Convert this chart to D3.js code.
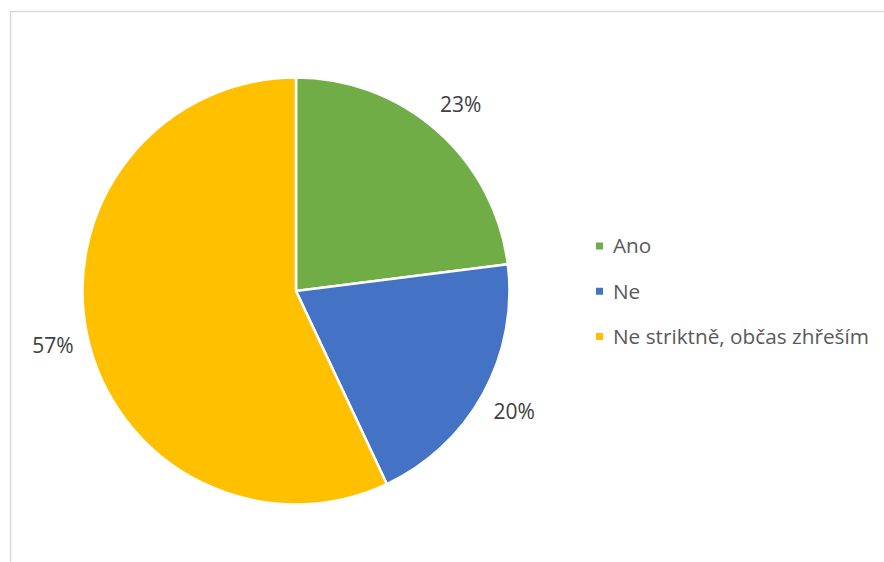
<!DOCTYPE html>
<html>
<head>
<meta charset="utf-8">
<script src="https://cdn.jsdelivr.net/npm/d3@7"></script>
<style>
  html, body { margin: 0; padding: 0; background: #fff; }
  svg { display: block; }
</style>
</head>
<body>
<svg id="chart" width="884" height="562"></svg>
<script>
// Answers to the survey question, share of respondents in percent
const categories = ["Ano", "Ne", "Ne striktně, občas zhřeším"];
const values = [23, 20, 57];
const valueLabels = ["23%", "20%", "57%"];
const colors = ["#70AD47", "#4472C4", "#FFC000"];

const width = 884, height = 562;
const svg = d3.select("#chart");
const font = "'Open Sans', Lato, sans-serif";

// Chart area frame
svg.append("rect")
  .attr("x", 10.5).attr("y", 11.5)
  .attr("width", width + 20).attr("height", height + 20)
  .attr("fill", "none")
  .attr("stroke", "#d9d9d9")
  .attr("stroke-width", 1.5);

const cx = 296, cy = 291, radius = 213.5;
const g = svg.append("g").attr("transform", `translate(${cx},${cy})`);

const pie = d3.pie().sort(null).value(d => d);
const arcs = pie(values);
const arc = d3.arc().innerRadius(0).outerRadius(radius);
const labelArc = d3.arc().innerRadius(249).outerRadius(249);

g.selectAll("path.slice")
  .data(arcs)
  .join("path")
  .attr("class", "slice")
  .attr("d", arc)
  .attr("fill", (d, i) => colors[i])
  .attr("stroke", "#fff")
  .attr("stroke-width", 2.5)
  .attr("stroke-linejoin", "round");

g.selectAll("text.value")
  .data(arcs)
  .join("text")
  .attr("class", "value")
  .attr("transform", d => `translate(${labelArc.centroid(d)})`)
  .attr("text-anchor", "middle")
  .attr("dy", "0.36em")
  .attr("font-family", font)
  .attr("font-size", 21)
  .attr("fill", "#404040")
  .text((d, i) => valueLabels[i]);

// Legend
const legendY = d3.scalePoint().domain(categories).range([246, 336.5]);
const legend = svg.append("g");
const items = legend.selectAll("g")
  .data(categories)
  .join("g")
  .attr("transform", d => `translate(596,${legendY(d)})`);

items.append("rect")
  .attr("x", 0).attr("y", -3.5)
  .attr("width", 7).attr("height", 7)
  .attr("fill", (d, i) => colors[i]);

items.append("text")
  .attr("x", 17)
  .attr("dy", "0.36em")
  .attr("font-family", font)
  .attr("font-size", 20.75)
  .attr("fill", "#595959")
  .text(d => d);
</script>
</body>
</html>
